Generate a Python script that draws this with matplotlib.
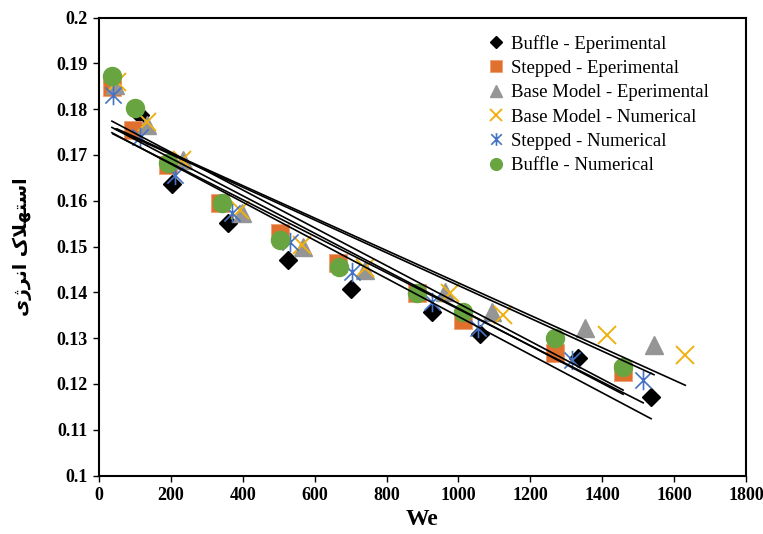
import numpy as np
import matplotlib
matplotlib.use("Agg")
import matplotlib.pyplot as plt
from matplotlib.path import Path

# ---- data ----
buffle_exp_x = [36, 114, 203, 359, 526, 701, 927, 1060, 1333, 1536]
buffle_exp_y = [0.1860, 0.1787, 0.1636, 0.1551, 0.1470, 0.1408, 0.1356, 0.1310, 0.1256, 0.1171]

stepped_exp_x = [36, 95, 192, 337, 504, 665, 885, 1013, 1269, 1458]
stepped_exp_y = [0.1848, 0.1754, 0.1678, 0.1595, 0.1530, 0.1464, 0.1399, 0.1340, 0.1268, 0.1227]

base_exp_x = [45, 134, 234, 398, 568, 740, 963, 1094, 1352, 1544]
base_exp_y = [0.1853, 0.1765, 0.1689, 0.1573, 0.1499, 0.1449, 0.1401, 0.1358, 0.1323, 0.1286]

base_num_x = [50, 134, 231, 392, 565, 740, 977, 1124, 1413, 1631]
base_num_y = [0.1859, 0.1772, 0.1689, 0.1580, 0.1503, 0.1453, 0.1399, 0.1351, 0.1307, 0.1263]

stepped_num_x = [39, 114, 211, 370, 531, 704, 927, 1055, 1316, 1514]
stepped_num_y = [0.1831, 0.1739, 0.1656, 0.1573, 0.1510, 0.1444, 0.1379, 0.1322, 0.1252, 0.1208]

buffle_num_x = [36, 100, 192, 342, 504, 668, 885, 1013, 1269, 1458]
buffle_num_y = [0.1872, 0.1802, 0.1682, 0.1595, 0.1514, 0.1455, 0.1399, 0.1358, 0.1301, 0.1237]

labels = ["Buffle - Eperimental", "Stepped - Eperimental", "Base Model - Eperimental",
          "Base Model - Numerical", "Stepped - Numerical", "Buffle - Numerical"]

x_ticks = [0, 200, 400, 600, 800, 1000, 1200, 1400, 1600, 1800]
y_ticks = [0.1, 0.11, 0.12, 0.13, 0.14, 0.15, 0.16, 0.17, 0.18, 0.19, 0.2]
y_tick_labels = ["0.1", "0.11", "0.12", "0.13", "0.14", "0.15", "0.16", "0.17", "0.18", "0.19", "0.2"]

# ---- style ----
plt.rcParams['font.family'] = ['Liberation Serif', 'DejaVu Sans']

fig = plt.figure(figsize=(7.63, 5.34), dpi=100)
ax = fig.add_axes([99/763, 1-475.5/534, (746-99)/763, (475.5-17.5)/534])

star = Path([(-1, -1), (1, 1), (-1, 1), (1, -1), (0, -1.2), (0, 1.2)],
            [Path.MOVETO, Path.LINETO, Path.MOVETO, Path.LINETO, Path.MOVETO, Path.LINETO])

series = [
    (buffle_exp_x, buffle_exp_y, dict(marker='D', ms=9, color='black', mfc='black', mec='black')),
    (stepped_exp_x, stepped_exp_y, dict(marker='s', ms=13, color='#E0702E', mfc='#E0702E', mec='#F0A070', mew=0.6)),
    (base_exp_x, base_exp_y, dict(marker='^', ms=13, color='#959595', mfc='#959595', mec='#959595')),
    (base_num_x, base_num_y, dict(marker='x', ms=13, color='#F0B010', mew=1.4)),
    (stepped_num_x, stepped_num_y, dict(marker=star, ms=14, color='#4472C4', mfc='none', mew=1.2)),
    (buffle_num_x, buffle_num_y, dict(marker='o', ms=13, color='#68A540', mfc='#68A540', mec='#68A540')),
]

handles = []
for (xs, ys, kw), lab in zip(series, labels):
    h, = ax.plot(xs, ys, linestyle='none', label=lab, **kw)
    handles.append(h)

# linear trendlines for each series
for xs, ys, kw in series:
    xs_a = np.array(xs, dtype=float)
    p = np.polyfit(xs_a, np.array(ys), 1)
    xx = np.array([xs_a.min(), xs_a.max()])
    ax.plot(xx, np.polyval(p, xx), color='black', lw=1.2, zorder=5)

ax.set_xlim(0, 1800)
ax.set_ylim(0.1, 0.2)
ax.set_xticks(x_ticks)
ax.set_xticklabels([str(t) for t in x_ticks])
ax.set_yticks(y_ticks)
ax.set_yticklabels(y_tick_labels)
ax.tick_params(direction='out', length=4, width=1, labelsize=13, pad=4)
for lab in ax.get_xticklabels() + ax.get_yticklabels():
    lab.set_fontweight('bold')
for sp in ax.spines.values():
    sp.set_linewidth(1.5)

ax.set_xlabel("We", fontsize=17, fontweight='bold', labelpad=4)

# Persian label "استهلاک انرژی" in presentation forms (visual order)
persian = "\uFBFC\uFB8A\uFEAE\uFEE7\uFE8D \uFB8E\uFEFC\uFEEC\uFE98\uFEB3\uFE8D"
fig.text(22/763, 1-247/534, persian, rotation=90, ha='center', va='center',
         fontsize=13.5, fontweight='bold', family=['DejaVu Sans'])

leg = ax.legend(handles=handles, loc='upper left', bbox_to_anchor=(0.588, 0.983),
                frameon=False, fontsize=13.5, markerscale=0.65, handlelength=0.75,
                handletextpad=0.45, labelspacing=0.385, borderpad=0)

fig.savefig("out.png", dpi=100)
